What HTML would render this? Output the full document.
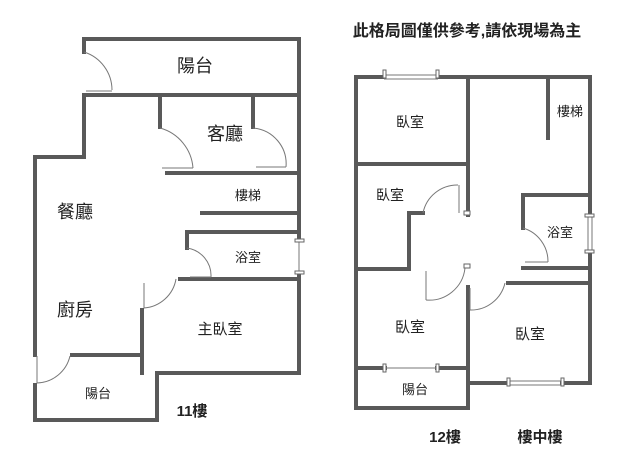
<!DOCTYPE html>
<html><head><meta charset="utf-8"><style>
html,body{margin:0;padding:0;background:#fff;}
svg{display:block;}
text{font-family:"Liberation Sans","Noto Sans CJK TC",sans-serif;fill:#222;}
</style></head><body>
<svg width="640" height="461" viewBox="0 0 640 461" xmlns="http://www.w3.org/2000/svg">
<g stroke="#595959" stroke-width="4" fill="none" stroke-linecap="square">
<polyline points="84,52 84,39 299,39 299,240"/>
<line x1="299" y1="273" x2="299" y2="373"/>
<line x1="84" y1="95" x2="299" y2="95"/>
<polyline points="84,95 84,157 35,157 35,355"/>
<polyline points="35,385 35,420 157,420 157,373 299,373"/>
<line x1="160" y1="95" x2="160" y2="127"/>
<line x1="253" y1="95" x2="253" y2="127"/>
<line x1="167" y1="173" x2="299" y2="173"/>
<line x1="202" y1="213" x2="299" y2="213"/>
<polyline points="187,248 187,232 299,232"/>
<line x1="180" y1="279" x2="299" y2="279"/>
<line x1="142" y1="310" x2="142" y2="373"/>
<line x1="72" y1="355" x2="142" y2="355"/>
<polyline points="384,77 356,77 356,408 468,408 468,287"/>
<line x1="438" y1="77" x2="590" y2="77"/>
<polyline points="590,77 590,215"/>
<polyline points="590,252 590,383 562,383"/>
<line x1="508" y1="383" x2="468" y2="383"/>
<line x1="468" y1="77" x2="468" y2="215"/>
<line x1="356" y1="164" x2="468" y2="164"/>
<polyline points="423,213 409,213 409,269 356,269"/>
<line x1="548" y1="77" x2="548" y2="138"/>
<polyline points="523,228 523,195 588,195"/>
<line x1="523" y1="268" x2="586" y2="268"/>
<line x1="508" y1="283" x2="586" y2="283"/>
<line x1="356" y1="368" x2="385" y2="368"/>
<line x1="437" y1="368" x2="468" y2="368"/>
</g>
<g stroke="#777" stroke-width="1" fill="none">
<path d="M84,52 A40,40 0 0 1 112,90"/>
<line x1="86" y1="91" x2="112" y2="91"/>
<path d="M160,128 A45,45 0 0 1 193,168"/>
<line x1="162" y1="168" x2="193" y2="168"/>
<path d="M253,128 A36,36 0 0 1 286,167"/>
<line x1="256" y1="167" x2="286" y2="167"/>
<path d="M187,248 A28,28 0 0 1 211,277"/>
<line x1="190" y1="277" x2="211" y2="277"/>
<path d="M176,279 A35,35 0 0 1 144,308"/>
<line x1="144" y1="283" x2="144" y2="308"/>
<path d="M70,356 A35,35 0 0 1 37,383"/>
<line x1="37" y1="356" x2="37" y2="383"/>
<line x1="299" y1="240" x2="299" y2="273"/>
<line x1="384" y1="75" x2="438" y2="75"/><line x1="384" y1="79" x2="438" y2="79"/>
<line x1="508" y1="381" x2="562" y2="381"/><line x1="508" y1="385" x2="562" y2="385"/>
<line x1="588" y1="215" x2="588" y2="252"/><line x1="592" y1="215" x2="592" y2="252"/>
<path d="M423,213 A35,35 0 0 1 458,185"/>
<line x1="459" y1="185" x2="459" y2="213"/>
<path d="M523,228 A35,35 0 0 1 548,262"/>
<line x1="525" y1="262" x2="548" y2="262"/>
<path d="M426,300 A36,36 0 0 0 465,268"/>
<line x1="426" y1="271" x2="426" y2="300"/>
<path d="M470,310 A35,35 0 0 0 505,283"/>
<line x1="470" y1="288" x2="470" y2="310"/>
<line x1="385" y1="368" x2="437" y2="368"/>
</g>
<g fill="#fff" stroke="#666" stroke-width="1">
<rect x="383" y="70" width="3" height="8"/><rect x="436" y="70" width="3" height="8"/>
<rect x="507" y="378" width="3" height="8"/><rect x="561" y="378" width="3" height="8"/>
<rect x="585" y="214" width="9" height="3"/><rect x="585" y="250" width="9" height="3"/>
<rect x="295" y="239" width="9" height="3"/><rect x="295" y="271" width="9" height="3"/>
<rect x="383" y="364" width="3" height="8"/><rect x="436" y="364" width="3" height="8"/>
<rect x="464" y="211" width="6" height="4"/><rect x="464" y="264" width="6" height="4"/>
</g>
<g text-anchor="middle">
<text x="467" y="36" font-size="16" font-weight="bold">此格局圖僅供參考,請依現場為主</text>
<text x="195" y="72" font-size="18">陽台</text>
<text x="225" y="140" font-size="18">客廳</text>
<text x="75" y="218" font-size="18">餐廳</text>
<text x="248" y="200" font-size="13">樓梯</text>
<text x="248" y="262" font-size="13">浴室</text>
<text x="75" y="316" font-size="18">廚房</text>
<text x="220" y="334" font-size="15">主臥室</text>
<text x="98" y="398" font-size="13">陽台</text>
<text x="192" y="416" font-size="15" font-weight="bold">11樓</text>
<text x="410" y="127" font-size="14">臥室</text>
<text x="390" y="200" font-size="14">臥室</text>
<text x="570" y="116" font-size="13">樓梯</text>
<text x="560" y="237" font-size="13">浴室</text>
<text x="410" y="332" font-size="15">臥室</text>
<text x="530" y="339" font-size="15">臥室</text>
<text x="415" y="394" font-size="13">陽台</text>
<text x="445" y="442" font-size="15" font-weight="bold">12樓</text>
<text x="540" y="442" font-size="15" font-weight="bold">樓中樓</text>
</g>
</svg>
</body></html>
